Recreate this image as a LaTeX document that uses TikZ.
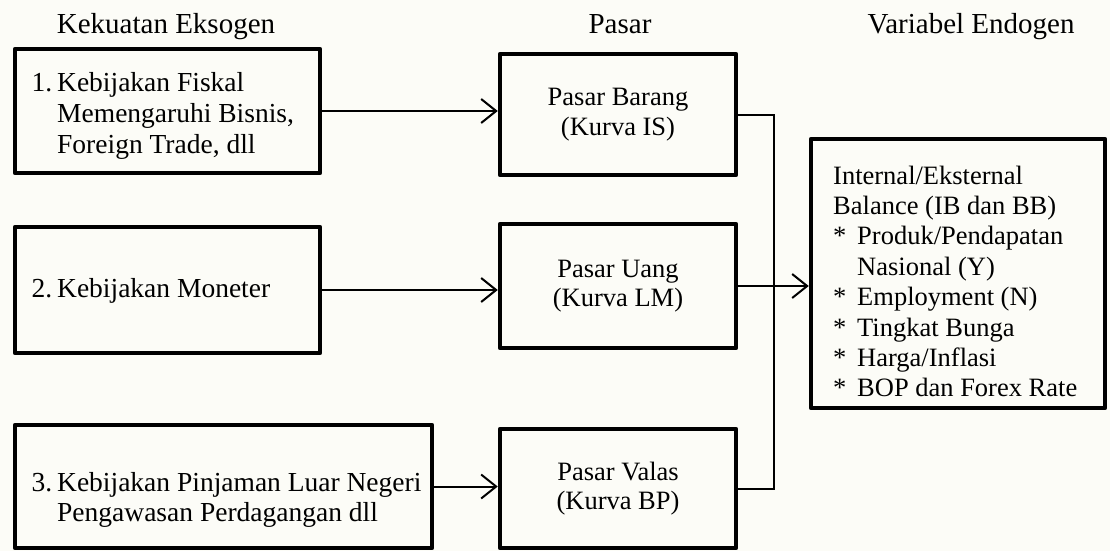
\documentclass[tikz,border=0pt]{standalone}
\usepackage{fontspec}
\setmainfont{Liberation Serif}
\usetikzlibrary{arrows.meta}
\definecolor{paper}{RGB}{252,252,247}
\begin{document}
\begin{tikzpicture}[x=1pt,y=-1pt,
  panel/.style={draw, rectangle, line width=4.5pt, line join=round, inner sep=0pt},
  head/.style={anchor=base, inner sep=0pt, font=\fontsize{29}{33}\selectfont},
  body/.style={anchor=base west, inner sep=0pt, font=\fontsize{27.5}{30.5}\selectfont},
  mkt/.style={panel, align=center, font=\fontsize{26.5}{29.5}\selectfont},
  link/.style={line width=2pt},
  arr/.style={link, -{Straight Barb[length=15pt,width=24pt]}}]

\fill[paper] (0,0) rectangle (1110,551);
\useasboundingbox (0,0) rectangle (1110,551);

% column headings
\node[head] (hExo)   at (166,33.5) {Kekuatan Eksogen};
\node[head] (hPasar) at (620,33.5) {Pasar};
\node[head] (hEndo)  at (971,33.5) {Variabel Endogen};

% exogenous policy boxes
\node[panel, minimum width=305, minimum height=124] (ex1) at (167.5,111) {};
\node[panel, minimum width=305, minimum height=126] (ex2) at (167.5,290) {};
\node[panel, minimum width=417, minimum height=123] (ex3) at (223.5,486.5) {};

\node[body] (t1) at (57,92) {\begin{tabular}[t]{@{}l@{}}\llap{1.\hspace{5pt}}Kebijakan Fiskal\\Memengaruhi Bisnis,\\Foreign Trade, dll\end{tabular}};
\node[body] (t2) at (57,297) {\llap{2.\hspace{5pt}}Kebijakan Moneter};
\node[body] (t3) at (57,491) {\begin{tabular}[t]{@{}l@{}}\llap{3.\hspace{5pt}}Kebijakan Pinjaman Luar Negeri\\Pengawasan Perdagangan dll\end{tabular}};

% market boxes
\node[mkt, minimum width=236, minimum height=121] (is) at (618,114.5) {Pasar Barang\\(Kurva IS)};
\node[mkt, minimum width=236, minimum height=124] (lm) at (618,286) {Pasar Uang\\(Kurva LM)};
\node[mkt, minimum width=236, minimum height=119] (bp) at (618,488.5) {Pasar Valas\\(Kurva BP)};

% endogenous variables box
\node[panel, minimum width=294, minimum height=269] (out) at (958,273.5) {};
\node[anchor=base west, inner sep=0pt, font=\fontsize{26.5}{30.4}\selectfont] (tout) at (833,184)
  {\begin{tabular}[t]{@{}l@{}}
   Internal/Eksternal\\
   Balance (IB dan BB)\\
   \makebox[24pt][l]{*}Produk/Pendapatan\\
   \hspace{24pt}Nasional (Y)\\
   \makebox[24pt][l]{*}Employment (N)\\
   \makebox[24pt][l]{*}Tingkat Bunga\\
   \makebox[24pt][l]{*}Harga/Inflasi\\
   \makebox[24pt][l]{*}BOP dan Forex Rate
   \end{tabular}};

% connectors
\coordinate (bus) at (774,0);
\draw[arr] (ex1.east) -- (ex1.east -| is.west);
\draw[arr] (ex2.east) -- (ex2.east -| lm.west);
\draw[arr] (ex3.east) -- (ex3.east -| bp.west);
\draw[link] (is.east) -- (is.east -| bus) -- (bp.east -| bus) -- (bp.east);
\draw[arr] (lm.east) -- (lm.east -| out.west);
\end{tikzpicture}
\end{document}
